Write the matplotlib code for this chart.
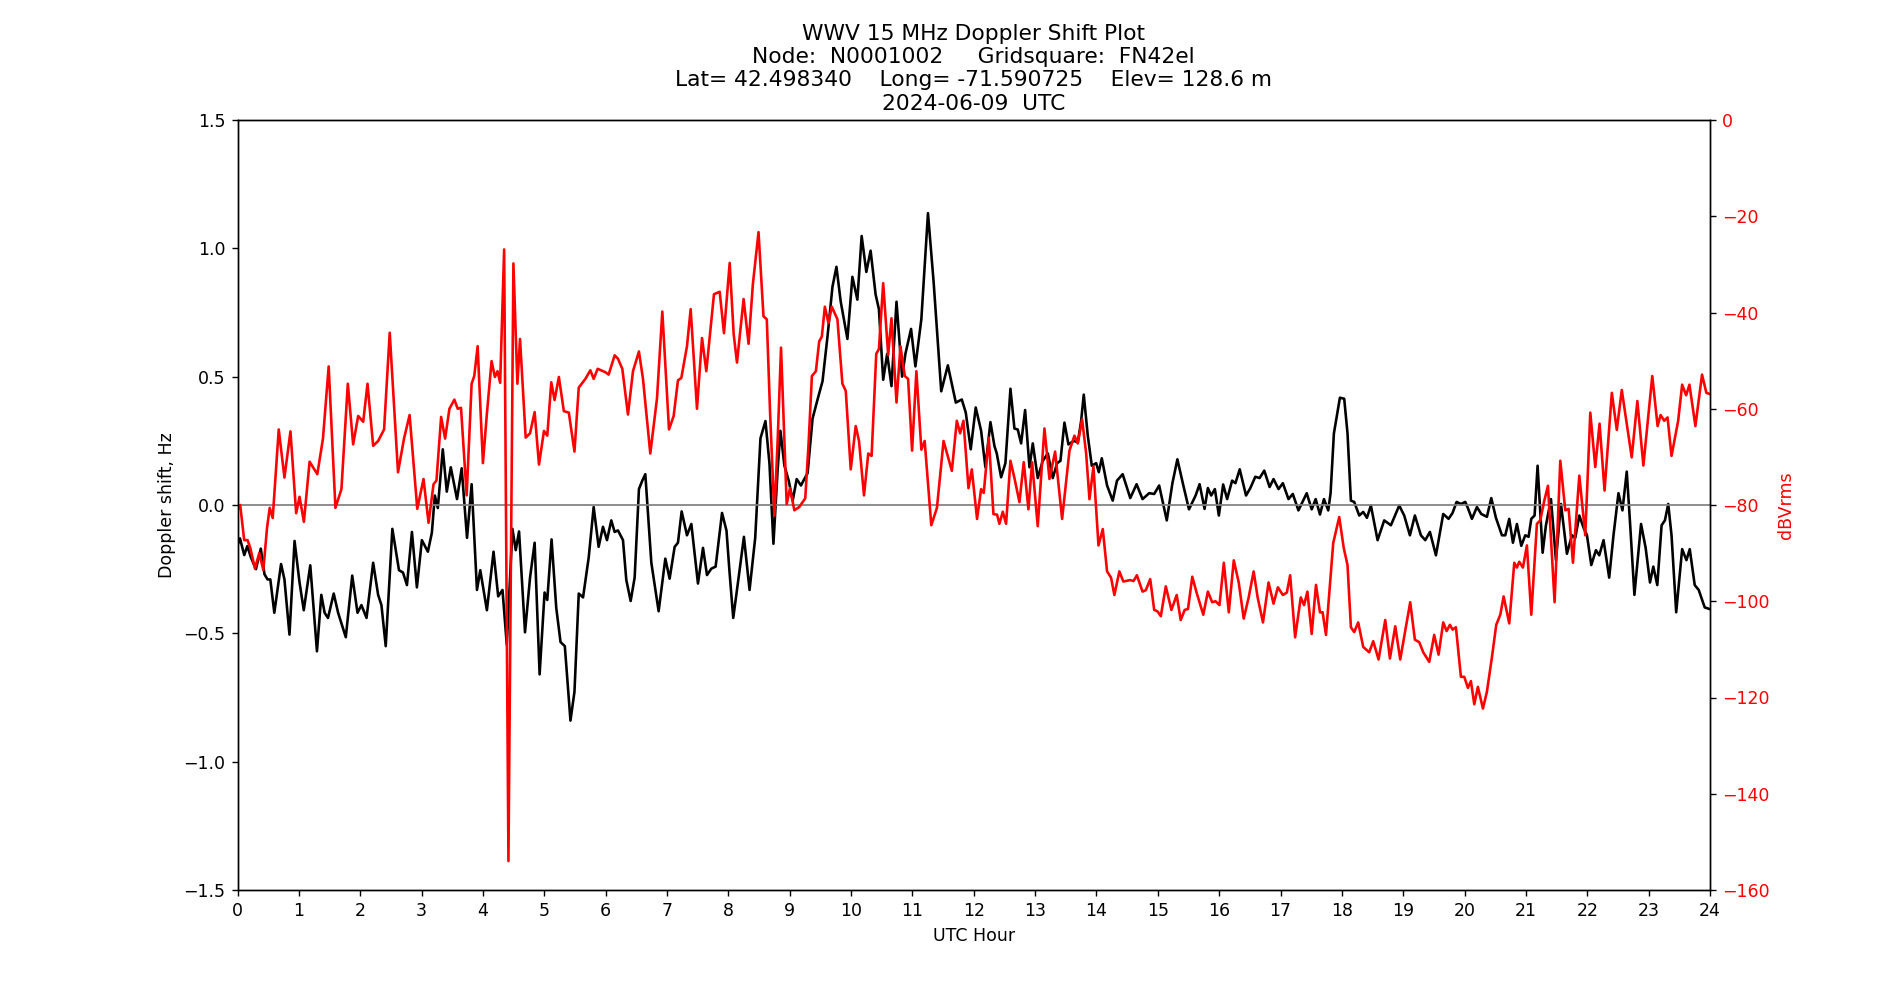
import matplotlib
matplotlib.use('Agg')
import matplotlib.pyplot as plt

# Doppler shift (Hz) vs UTC hour
doppler_hours = [
    0.00, 0.04, 0.11, 0.16, 0.22, 0.30, 0.38, 0.44, 0.49, 0.535, 0.60, 0.71, 0.765, 0.847, 0.93,
    1.01, 1.08, 1.186, 1.295, 1.366, 1.42, 1.475, 1.568, 1.64, 1.765, 1.87, 1.956, 2.02, 2.103,
    2.211, 2.292, 2.346, 2.416, 2.524, 2.632, 2.697, 2.762, 2.843, 2.924, 3.005, 3.103, 3.168,
    3.216, 3.265, 3.346, 3.411, 3.476, 3.578, 3.654, 3.741, 3.816, 3.903, 3.957, 4.065, 4.173,
    4.249, 4.319, 4.389, 4.481, 4.535, 4.589, 4.686, 4.768, 4.843, 4.924, 5.005, 5.049, 5.119,
    5.195, 5.265, 5.335, 5.427, 5.492, 5.562, 5.632, 5.724, 5.805, 5.886, 5.957, 6.022, 6.092,
    6.147, 6.201, 6.283, 6.337, 6.408, 6.473, 6.543, 6.598, 6.647, 6.745, 6.864, 6.973, 7.043,
    7.125, 7.179, 7.239, 7.326, 7.397, 7.505, 7.587, 7.652, 7.723, 7.793, 7.897, 7.97, 8.02,
    8.08, 8.173, 8.254, 8.346, 8.438, 8.524, 8.605, 8.670, 8.735, 8.805, 8.849, 8.914, 8.984,
    9.049, 9.114, 9.184, 9.238, 9.292, 9.373, 9.454, 9.535, 9.616, 9.697, 9.762, 9.832, 9.941,
    10.022, 10.103, 10.173, 10.249, 10.319, 10.40, 10.454, 10.524, 10.589, 10.659, 10.741,
    10.832, 10.886, 10.978, 11.049, 11.146, 11.254, 11.346, 11.470, 11.578, 11.708, 11.805,
    11.870, 11.951, 12.032, 12.12, 12.19, 12.272, 12.337, 12.375, 12.446, 12.516, 12.598,
    12.663, 12.717, 12.772, 12.837, 12.908, 12.962, 13.043, 13.125, 13.207, 13.288, 13.359,
    13.413, 13.478, 13.543, 13.630, 13.696, 13.75, 13.793, 13.859, 13.924, 13.995, 14.038,
    14.087, 14.173, 14.265, 14.335, 14.427, 14.551, 14.654, 14.751, 14.859, 14.941, 15.022,
    15.146, 15.238, 15.319, 15.416, 15.508, 15.616, 15.681, 15.762, 15.816, 15.870, 15.930,
    15.995, 16.065, 16.13, 16.211, 16.265, 16.335, 16.438, 16.508, 16.589, 16.659, 16.735,
    16.822, 16.886, 16.968, 17.038, 17.130, 17.2, 17.292, 17.427, 17.508, 17.573, 17.643,
    17.708, 17.778, 17.816, 17.87, 17.968, 18.038, 18.092, 18.147, 18.201, 18.283, 18.348,
    18.408, 18.473, 18.582, 18.690, 18.799, 18.935, 19.016, 19.109, 19.190, 19.288, 19.359,
    19.435, 19.533, 19.652, 19.739, 19.804, 19.870, 19.940, 20.011, 20.054, 20.12, 20.201,
    20.272, 20.364, 20.435, 20.511, 20.609, 20.663, 20.728, 20.788, 20.853, 20.924, 20.989,
    21.043, 21.087, 21.141, 21.190, 21.272, 21.326, 21.408, 21.489, 21.571, 21.668, 21.75,
    21.804, 21.870, 21.940, 21.995, 22.065, 22.141, 22.195, 22.265, 22.357, 22.427, 22.508,
    22.573, 22.643, 22.697, 22.768, 22.876, 22.951, 23.022, 23.076, 23.141, 23.211, 23.265,
    23.319, 23.373, 23.449, 23.546, 23.616, 23.670, 23.751, 23.816, 23.914, 23.989,
]
doppler_hz = [
    -0.157, -0.13, -0.195, -0.16, -0.205, -0.25, -0.17, -0.27, -0.29, -0.29, -0.42, -0.23, -0.29, -0.505, -0.14,
    -0.30, -0.41, -0.235, -0.57, -0.35, -0.42, -0.44, -0.345, -0.42, -0.515, -0.275, -0.42, -0.39, -0.44,
    -0.225, -0.35, -0.39, -0.55, -0.093, -0.254, -0.263, -0.312, -0.105, -0.321, -0.137, -0.182, -0.108,
    0.037, -0.012, 0.217, 0.052, 0.147, 0.023, 0.143, -0.128, 0.081, -0.331, -0.254, -0.41, -0.182,
    -0.356, -0.331, -0.544, -0.093, -0.176, -0.103, -0.496, -0.283, -0.147, -0.66, -0.341, -0.37, -0.134,
    -0.40, -0.534, -0.55, -0.84, -0.728, -0.345, -0.36, -0.205, -0.008, -0.163, -0.085, -0.137, -0.06,
    -0.105, -0.099, -0.137, -0.292, -0.374, -0.283, 0.062, 0.095, 0.12, -0.225, -0.414, -0.209, -0.287,
    -0.163, -0.147, -0.025, -0.118, -0.074, -0.306, -0.167, -0.273, -0.248, -0.24, -0.031, -0.10, -0.263,
    -0.44, -0.273, -0.124, -0.331, -0.128, 0.26, 0.327, 0.163, -0.151, 0.143, 0.289, 0.153, 0.095,
    0.017, 0.101, 0.076, 0.101, 0.124, 0.337, 0.411, 0.482, 0.656, 0.85, 0.928, 0.792, 0.647,
    0.889, 0.80, 1.048, 0.908, 0.991, 0.821, 0.763, 0.488, 0.589, 0.463, 0.792,
    0.50, 0.589, 0.686, 0.54, 0.724, 1.137, 0.869, 0.443, 0.544, 0.399, 0.411,
    0.36, 0.217, 0.38, 0.289, 0.147, 0.323, 0.23, 0.201, 0.108, 0.163, 0.453,
    0.298, 0.294, 0.24, 0.37, 0.147, 0.24, 0.105, 0.172, 0.201, 0.105, 0.163,
    0.172, 0.321, 0.236, 0.25, 0.244, 0.327, 0.43, 0.269, 0.153, 0.163, 0.128,
    0.182, 0.076, 0.017, 0.095, 0.12, 0.027, 0.081, 0.023, 0.046, 0.043, 0.076,
    -0.06, 0.085, 0.178, 0.076, -0.017, 0.037, 0.081, -0.015, 0.066, 0.037, 0.062,
    -0.041, 0.08, 0.023, 0.095, 0.085, 0.139, 0.037, 0.066, 0.11, 0.105, 0.134,
    0.07, 0.101, 0.062, 0.085, 0.023, 0.043, -0.021, 0.046, -0.017, 0.023, -0.037,
    0.023, -0.021, 0.046, 0.279, 0.418, 0.414, 0.279, 0.017, 0.012, -0.041, -0.027,
    -0.05, -0.002, -0.137, -0.06, -0.079, -0.002, -0.041, -0.118, -0.041, -0.118, -0.137,
    -0.105, -0.196, -0.035, -0.054, -0.031, 0.012, 0.004, 0.012, -0.012, -0.054, -0.008,
    -0.035, -0.046, 0.027, -0.05, -0.118, -0.118, -0.054, -0.147, -0.074, -0.159, -0.118,
    -0.124, -0.054, -0.041, 0.153, -0.186, -0.079, 0.023, -0.215, 0.004, -0.19, -0.118,
    -0.128, -0.041, -0.089, -0.118, -0.234, -0.176, -0.196, -0.137, -0.283, -0.118, 0.046,
    -0.021, 0.13, -0.07, -0.35, -0.074, -0.167, -0.302, -0.24, -0.312, -0.079, -0.06,
    0.004, -0.118, -0.418, -0.172, -0.215, -0.172, -0.312, -0.331, -0.399, -0.405,
]

# Signal level (dBVrms) vs UTC hour
power_hours = [
    0.0, 0.044, 0.109, 0.164, 0.208, 0.284, 0.355, 0.421, 0.481, 0.525, 0.574, 0.672, 0.765, 0.863,
    0.956, 1.011, 1.082, 1.175, 1.301, 1.393, 1.486, 1.596, 1.694, 1.798, 1.885, 1.967, 2.049,
    2.119, 2.211, 2.292, 2.389, 2.481, 2.616, 2.714, 2.805, 2.930, 3.032, 3.114, 3.195, 3.243,
    3.319, 3.384, 3.454, 3.535, 3.589, 3.643, 3.735, 3.816, 3.859, 3.914, 4.0, 4.065, 4.141,
    4.195, 4.238, 4.281, 4.346, 4.416, 4.497, 4.562, 4.605, 4.697, 4.768, 4.843, 4.914, 4.995,
    5.049, 5.114, 5.168, 5.238, 5.319, 5.40, 5.492, 5.562, 5.670, 5.751, 5.805, 5.870, 5.995,
    6.049, 6.147, 6.201, 6.272, 6.364, 6.446, 6.543, 6.609, 6.728, 6.837, 6.924, 7.033, 7.109,
    7.179, 7.234, 7.326, 7.386, 7.489, 7.571, 7.641, 7.766, 7.859, 7.929, 8.022, 8.087, 8.141,
    8.249, 8.33, 8.40, 8.492, 8.573, 8.627, 8.681, 8.751, 8.805, 8.859, 8.951, 9.005, 9.076,
    9.157, 9.254, 9.308, 9.362, 9.427, 9.481, 9.524, 9.573, 9.632, 9.686, 9.778, 9.859, 9.914,
    9.995, 10.076, 10.13, 10.211, 10.281, 10.335, 10.411, 10.454, 10.524, 10.605, 10.659,
    10.741, 10.805, 10.876, 10.93, 10.995, 11.065, 11.146, 11.2, 11.308, 11.4, 11.508, 11.643,
    11.724, 11.778, 11.832, 11.914, 11.968, 12.054, 12.12, 12.163, 12.245, 12.321, 12.38,
    12.418, 12.473, 12.527, 12.598, 12.663, 12.745, 12.815, 12.891, 12.951, 13.043, 13.152,
    13.234, 13.326, 13.44, 13.56, 13.641, 13.696, 13.766, 13.832, 13.886, 13.951, 14.033,
    14.103, 14.173, 14.238, 14.292, 14.373, 14.438, 14.551, 14.605, 14.659, 14.751, 14.805,
    14.876, 14.941, 14.995, 15.049, 15.13, 15.222, 15.308, 15.373, 15.438, 15.492, 15.562,
    15.632, 15.741, 15.816, 15.886, 15.941, 16.005, 16.076, 16.157, 16.238, 16.319, 16.4,
    16.481, 16.562, 16.627, 16.714, 16.805, 16.886, 16.957, 17.038, 17.103, 17.157, 17.238,
    17.33, 17.384, 17.438, 17.508, 17.578, 17.643, 17.686, 17.741, 17.859, 17.957, 18.03,
    18.092, 18.147, 18.201, 18.266, 18.348, 18.446, 18.511, 18.598, 18.707, 18.783, 18.87,
    18.951, 19.043, 19.114, 19.19, 19.261, 19.326, 19.424, 19.505, 19.576, 19.652, 19.707,
    19.761, 19.804, 19.859, 19.94, 19.995, 20.054, 20.103, 20.158, 20.217, 20.299, 20.364,
    20.446, 20.516, 20.582, 20.636, 20.728, 20.81, 20.853, 20.891, 20.951, 21.016, 21.087,
    21.179, 21.234, 21.299, 21.359, 21.467, 21.56, 21.641, 21.696, 21.766, 21.87, 21.967,
    22.049, 22.13, 22.2, 22.281, 22.4, 22.481, 22.562, 22.643, 22.724, 22.816, 22.914, 23.059,
    23.146, 23.195, 23.254, 23.308, 23.373, 23.481, 23.546, 23.611, 23.665, 23.762, 23.870,
    23.941, 23.989,
]
power_db = [
    -81.1, -80, -87.3, -87.3, -88.9, -93.2, -90, -93.5, -84.8, -80.6, -82.7, -64.3, -74.3, -64.7,
    -81.7, -78.3, -83.5, -71, -73.6, -66.2, -51.2, -80.6, -76.7, -54.8, -67.4, -61.5, -62.7,
    -54.8, -67.7, -66.7, -64.3, -44.2, -73.2, -66.2, -61.3, -80.8, -74.6, -83.7, -75.7, -74.9,
    -61.7, -66.2, -60, -58.1, -60, -59.8, -78, -54.8, -53.2, -47, -71.3, -61, -50.1,
    -53.4, -52.2, -54.6, -26.9, -154, -29.8, -54.8, -45.5, -66, -65.1, -60.7, -71.6, -64.6,
    -65.6, -54.5, -58.2, -53.4, -60.5, -60.8, -68.9, -55.6, -53.8, -52, -53.8, -51.7, -52.4,
    -52.9, -48.9, -49.6, -51.7, -61.2, -52.2, -48.1, -53.8, -69.3, -57.9, -39.8, -64.3, -61.5,
    -54.1, -53.6, -47, -39.3, -60, -45.3, -52.2, -36.2, -35.7, -44.3, -29.7, -44.5, -50.4,
    -37.2, -46.5, -34.1, -23.3, -40.8, -41.4, -61, -82.2, -66.2, -47.3, -79.8, -76.5, -81.1,
    -80.4, -78.6, -67.2, -53.2, -52.2, -46, -45, -38.8, -42.2, -38.8, -41.4, -54.8, -56.3,
    -72.6, -63.6, -66.7, -78, -69.3, -69.8, -48.6, -47.6, -33.9, -48.8, -41.2,
    -58.7, -47, -53.2, -53.8, -68.7, -52.2, -68.5, -66.7, -84.2, -80.6, -66.7, -72.9,
    -62.5, -65.1, -62.5, -76.5, -72.6, -82.9, -76.7, -77.5, -66, -81.9, -82,
    -83.9, -81.4, -83.9, -70.8, -74.4, -79.4, -71.1, -80.9, -71.1, -84.4, -64.1,
    -74.6, -68.9, -82.9, -68.7, -65.6, -67.2, -62.2, -69.3, -78.8, -72, -88.4,
    -85, -93.8, -95.1, -98.7, -93.8, -95.9, -95.6, -95.8, -94.6, -98, -97.7,
    -95.4, -101.8, -102.1, -103.1, -96.9, -101.8, -98.7, -103.9, -101.8, -101.6, -94.9,
    -98.2, -102.8, -98, -100.2, -100, -100.8, -92, -102.3, -91.5, -96.1, -103.6,
    -99.2, -93.8, -99.2, -104.4, -96.1, -100.5, -97.1, -98.7, -98.2, -94.6, -107.5,
    -99.2, -100.8, -98, -106.8, -96.6, -102.3, -102.3, -107, -87.9, -82.5, -88.9,
    -92.5, -105.4, -106.4, -104.4, -109.5, -110.6, -108.3, -112.1, -103.9, -111.9, -105.2,
    -112.1, -105.4, -100.2, -108, -108.5, -110.6, -112.6, -107, -111.1, -104.4, -106.2,
    -104.9, -105.9, -105.4, -115.7, -115.7, -118, -116.6, -121.4, -117.8, -122.3, -118.8,
    -111.6, -104.9, -102.8, -99, -104.6, -92, -93, -91.8, -93, -88.4, -102.8,
    -83.9, -83.2, -79.1, -76, -100.2, -70.8, -81.1, -80.8, -92, -73.9, -86.3,
    -60.8, -72.1, -63.1, -77, -56.7, -64.4, -56.1, -63.1, -70.1, -58.4, -71.8, -53.2,
    -63.6, -61.3, -62.5, -61.8, -69.8, -62.5, -55, -57.2, -55, -63.6, -52.9,
    -56.7, -56.9,
]

title_lines = [
    'WWV 15 MHz Doppler Shift Plot',
    'Node:  N0001002     Gridsquare:  FN42el',
    'Lat= 42.498340    Long= -71.590725    Elev= 128.6 m',
    '2024-06-09  UTC',
]

# 15.2 x 8 in at 125 dpi -> 1900 x 1000 px
fig, ax = plt.subplots(figsize=(15.2, 8), dpi=125)

# doppler trace on the left axis
ax.plot(doppler_hours, doppler_hz, color='k', linewidth=1.5)
ax.axhline(0, color='grey', linewidth=1)
ax.set_xlim(0, 24)
ax.set_xticks(range(0, 25))
ax.set_ylim(-1.5, 1.5)
ax.set_yticks([-1.5, -1.0, -0.5, 0.0, 0.5, 1.0, 1.5])
ax.set_xlabel('UTC Hour')
ax.set_ylabel('Doppler shift, Hz')
ax.set_title('\n'.join(title_lines), fontsize=12.5)

# signal level on the right axis
ax2 = ax.twinx()
ax2.plot(power_hours, power_db, color='r', linewidth=1.5)
ax2.set_ylim(-160, 0)
ax2.set_yticks(range(-160, 1, 20))
ax2.set_ylabel('dBVrms', color='r')
ax2.tick_params(axis='y', labelcolor='r')

plt.savefig('out.png', dpi=125)
plt.close('all')
